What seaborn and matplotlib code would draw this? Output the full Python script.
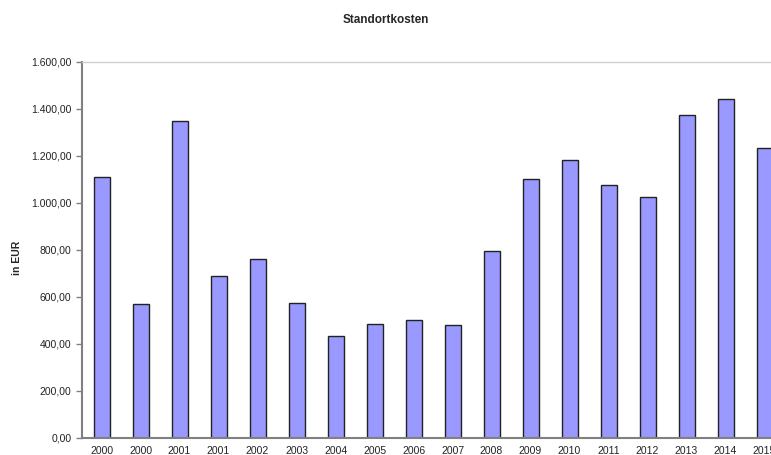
import pandas as pd
import matplotlib.pyplot as plt
import seaborn as sns
from matplotlib.ticker import FuncFormatter, MultipleLocator

# values
years = ["2000", "2000", "2001", "2001", "2002", "2003", "2004", "2005", "2006",
         "2007", "2008", "2009", "2010", "2011", "2012", "2013", "2014", "2015"]
kosten = [1110, 570, 1350, 690, 760, 575, 434, 485, 502,
          481, 795, 1102, 1183, 1077, 1026, 1374, 1443, 1234]

df = pd.DataFrame({"idx": range(len(years)), "year": years, "kosten": kosten})

sns.set_style("white")
plt.rcParams["font.family"] = ["Liberation Sans", "DejaVu Sans"]

fig = plt.figure(figsize=(7.71, 4.55), dpi=100)
ax = fig.add_axes([0.1064, 0.0374, 0.9105, 0.8264])

sns.barplot(data=df, x="idx", y="kosten", color="#9999FF", saturation=1,
            width=0.41, edgecolor="#222222", linewidth=1.0, ax=ax)

ax.set_xlim(-0.5, len(years) - 0.5)
ax.set_ylim(0, 1600)
ax.yaxis.set_major_locator(MultipleLocator(200))
ax.yaxis.set_major_formatter(
    FuncFormatter(lambda v, p: f"{v:,.2f}".replace(",", "X").replace(".", ",").replace("X", ".")))
ax.set_xticks(range(len(years)))
ax.set_xticklabels(years)
ax.set_xticks([i - 0.5 for i in range(len(years) + 1)], minor=True)
ax.tick_params(axis="x", which="major", length=0, pad=6, labelsize=7.5, labelcolor="#222222")
ax.tick_params(axis="x", which="minor", length=4, width=1, color="#808080", direction="out")
ax.tick_params(axis="y", length=4, width=1, color="#808080", direction="out",
               labelsize=7.5, labelcolor="#222222", left=True)

for s in ["left", "bottom"]:
    ax.spines[s].set_color("#808080")
    ax.spines[s].set_linewidth(1.5)
for s in ["top", "right"]:
    ax.spines[s].set_color("#D0D0D0")
    ax.spines[s].set_linewidth(1.0)

ax.set_xlabel("")
ax.set_ylabel("in EUR", fontsize=7.5, fontweight="bold", labelpad=22)
ax.yaxis.set_label_coords(-0.085, 0.48)
fig.text(0.5, 0.955, "Standortkosten", ha="center", va="center",
         fontsize=8.5, fontweight="bold")

plt.savefig("out.png", dpi=100)
